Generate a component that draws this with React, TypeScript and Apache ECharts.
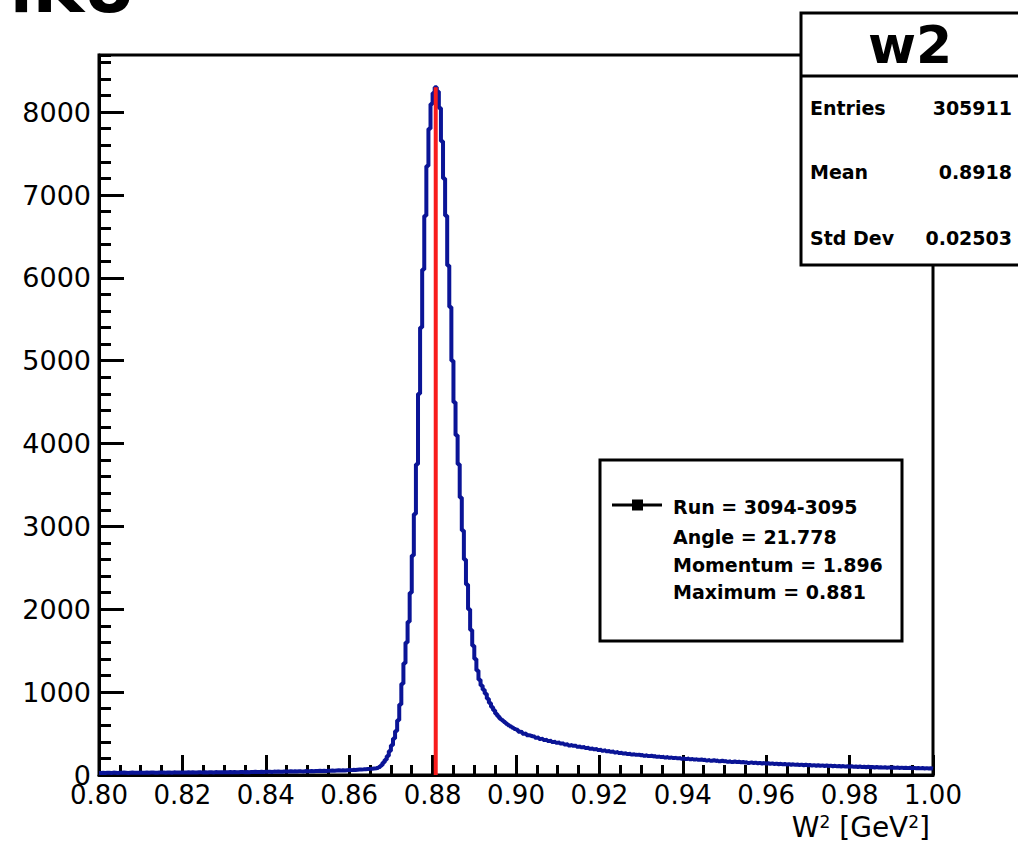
import { useEffect, useRef } from "react";
import * as echarts from "echarts";

// Histogram binning
const BIN_MIN = 0.8;
const BIN_WIDTH = 0.0005;

// Bin contents (400 bins, 0.800 -> 1.000)
const counts: number[] = [
  24, 27, 25, 28, 26, 24, 29, 27, 25, 28,
  26, 29, 27, 25, 28, 30, 26, 28, 27, 29,
  28, 26, 30, 27, 29, 31, 28, 27, 30, 29,
  30, 28, 31, 29, 27, 32, 30, 29, 31, 30,
  31, 29, 32, 30, 33, 31, 30, 34, 32, 31,
  33, 31, 34, 32, 30, 35, 33, 32, 34, 33,
  34, 32, 35, 33, 36, 34, 33, 36, 35, 34,
  36, 34, 37, 35, 38, 36, 35, 38, 37, 39,
  38, 40, 37, 41, 39, 42, 40, 39, 43, 41,
  42, 44, 41, 45, 43, 46, 44, 43, 47, 45,
  46, 48, 45, 49, 47, 50, 48, 51, 49, 52,
  50, 53, 51, 54, 56, 53, 57, 55, 58, 60,
  59, 62, 61, 64, 66, 65, 68, 70, 72, 74,
  76, 79, 82, 88, 98, 118, 150, 185, 230, 290,
  360, 440, 530, 660, 850, 1100, 1350, 1600, 1850, 2200,
  2650, 3150, 3750, 4600, 5400, 6100, 6750, 7350, 7800, 8100,
  8230, 8300, 8250, 8050, 7650, 7200, 6750, 6150, 5650, 5000,
  4500, 4100, 3750, 3350, 2950, 2600, 2300, 2000, 1750, 1560,
  1400, 1260, 1150, 1080, 1030, 980, 920, 870, 820, 780,
  740, 710, 680, 660, 640, 620, 600, 585, 570, 555,
  545, 522, 518, 497, 503, 481, 476, 468, 465, 449,
  452, 436, 438, 421, 425, 411, 414, 398, 401, 389,
  392, 379, 381, 368, 372, 357, 361, 352, 354, 341,
  345, 334, 337, 326, 329, 318, 321, 310, 313, 302,
  305, 294, 298, 287, 291, 280, 284, 273, 277, 266,
  270, 259, 263, 253, 257, 247, 252, 243, 246, 238,
  243, 233, 238, 228, 232, 224, 229, 219, 225, 216,
  221, 212, 217, 208, 213, 204, 210, 201, 206, 197,
  203, 194, 199, 190, 195, 186, 192, 183, 188, 180,
  185, 176, 182, 173, 178, 170, 175, 166, 172, 164,
  169, 160, 166, 157, 163, 155, 160, 152, 157, 150,
  155, 146, 152, 144, 149, 141, 147, 139, 144, 137,
  142, 134, 140, 132, 137, 130, 135, 128, 133, 126,
  131, 124, 129, 122, 127, 120, 125, 118, 123, 117,
  121, 114, 119, 112, 118, 110, 116, 109, 114, 108,
  113, 106, 111, 104, 109, 103, 108, 101, 106, 100,
  105, 98, 103, 97, 102, 95, 100, 94, 99, 93,
  97, 91, 96, 90, 94, 89, 93, 88, 92, 87,
  91, 86, 90, 85, 89, 84, 88, 83, 87, 82,
  86, 81, 85, 80, 84, 79, 83, 78, 82, 77,
];

// Axes
const X_MIN = 0.8;
const X_MAX = 1.0;
const X_INTERVAL = 0.02;
const Y_MIN = 0;
const Y_MAX = 8690;
const Y_INTERVAL = 1000;
const Y_MINOR_INTERVAL = 200;

// Texts
const pageTitle = "lKU";
const statsTitle = "w2";
const statsLabels = ["Entries", "Mean", "Std Dev"];
const statsValues = ["305911", "0.8918", "0.02503"];
const legendLines = ["Run = 3094-3095", "Angle = 21.778", "Momentum = 1.896", "Maximum = 0.881"];

const FONT = '"DejaVu Sans", "Liberation Sans", Arial, sans-serif';

export default function App() {
  const ref = useRef<HTMLDivElement>(null);

  useEffect(() => {
    if (!ref.current) return;
    const chart = echarts.init(ref.current, null, { renderer: "svg" });

    const histData: number[][] = counts.map((c, i) => [BIN_MIN + i * BIN_WIDTH, c]);
    histData.push([BIN_MIN + counts.length * BIN_WIDTH, counts[counts.length - 1]]);

    let maxIdx = 0;
    counts.forEach((c, i) => {
      if (c > counts[maxIdx]) maxIdx = i;
    });
    const peakX = BIN_MIN + (maxIdx + 0.5) * BIN_WIDTH;
    const peakY = counts[maxIdx];

    const statRowsY = [108, 172, 238];
    const legendRowsY = [507, 537, 565, 592];

    const graphic: any[] = [
      {
        type: "text",
        x: 10,
        y: 22,
        z: 20,
        style: { text: pageTitle, fontFamily: FONT, fontWeight: "bold", fontSize: 66, fill: "#000", verticalAlign: "bottom" },
      },
      // stats box
      {
        type: "rect",
        z: 20,
        shape: { x: 801, y: 13, width: 260, height: 252 },
        style: { fill: "#fff", stroke: "#000", lineWidth: 3 },
      },
      {
        type: "line",
        z: 21,
        shape: { x1: 801, y1: 76, x2: 1030, y2: 76 },
        style: { stroke: "#000", lineWidth: 3 },
      },
      {
        type: "text",
        x: 910,
        y: 45,
        z: 21,
        style: { text: statsTitle, fontFamily: FONT, fontWeight: "bold", fontSize: 52, fill: "#000", align: "center", verticalAlign: "middle" },
      },
      ...statsLabels.map((t, i) => ({
        type: "text",
        x: 810,
        y: statRowsY[i],
        z: 21,
        style: { text: t, fontFamily: FONT, fontWeight: "bold", fontSize: 19, fill: "#000", align: "left", verticalAlign: "middle" },
      })),
      ...statsValues.map((t, i) => ({
        type: "text",
        x: 1012,
        y: statRowsY[i],
        z: 21,
        style: { text: t, fontFamily: FONT, fontWeight: "bold", fontSize: 19, fill: "#000", align: "right", verticalAlign: "middle" },
      })),
      // legend box
      {
        type: "rect",
        z: 20,
        shape: { x: 600, y: 460, width: 302, height: 181 },
        style: { fill: "#fff", stroke: "#000", lineWidth: 3 },
      },
      {
        type: "line",
        z: 21,
        shape: { x1: 612, y1: 505, x2: 662, y2: 505 },
        style: { stroke: "#000", lineWidth: 3 },
      },
      {
        type: "rect",
        z: 22,
        shape: { x: 632, y: 499.5, width: 11, height: 11 },
        style: { fill: "#000" },
      },
      ...legendLines.map((t, i) => ({
        type: "text",
        x: 673,
        y: legendRowsY[i],
        z: 21,
        style: { text: t, fontFamily: FONT, fontWeight: "bold", fontSize: 19, fill: "#000", align: "left", verticalAlign: "middle" },
      })),
    ];

    chart.setOption({
      animation: false,
      backgroundColor: "#fff",
      grid: {
        left: 99,
        right: 85,
        top: 55,
        bottom: 70,
        show: true,
        borderColor: "#000",
        borderWidth: 3,
        backgroundColor: "transparent",
      },
      xAxis: {
        type: "value",
        min: X_MIN,
        max: X_MAX,
        interval: X_INTERVAL,
        axisLine: { show: true, lineStyle: { color: "#000", width: 3 } },
        axisTick: { show: true, inside: true, length: 20, lineStyle: { color: "#000", width: 3 } },
        minorTick: { show: true, splitNumber: 4, length: 10, lineStyle: { color: "#000", width: 3 } },
        splitLine: { show: false },
        minorSplitLine: { show: false },
        axisLabel: {
          margin: 7,
          color: "#000",
          fontFamily: FONT,
          fontSize: 26,
          lineHeight: 26,
          formatter: (v: number) => v.toFixed(2),
        },
        name: "{b|W}{s|2}{b| [GeV}{s|2}{b|]}",
        nameLocation: "end",
        nameGap: -3,
        nameTextStyle: {
          align: "right",
          verticalAlign: "top",
          padding: [38, 0, 0, 0],
          rich: {
            b: { fontFamily: FONT, fontSize: 28, lineHeight: 28, color: "#000", verticalAlign: "bottom" },
            s: { fontFamily: FONT, fontSize: 17, lineHeight: 17, color: "#000", verticalAlign: "top" },
          },
        },
      },
      yAxis: [
        {
          type: "value",
          min: Y_MIN,
          max: Y_MAX,
          interval: Y_INTERVAL,
          position: "left",
          axisLine: { show: true, lineStyle: { color: "#000", width: 3 } },
          axisTick: { show: true, inside: true, length: 25, lineStyle: { color: "#000", width: 3 } },
          splitLine: { show: false },
          axisLabel: {
            margin: 8,
            color: "#000",
            fontFamily: FONT,
            fontSize: 27,
            showMaxLabel: false,
            formatter: (v: number) => (v % Y_INTERVAL === 0 ? String(v) : ""),
          },
        },
        {
          type: "value",
          min: Y_MIN,
          max: Y_MAX,
          interval: Y_MINOR_INTERVAL,
          position: "left",
          offset: 0,
          axisLine: { show: false },
          axisTick: { show: true, inside: true, length: 12, lineStyle: { color: "#000", width: 3 } },
          splitLine: { show: false },
          axisLabel: { show: false },
        },
      ],
      series: [
        {
          name: "w2",
          type: "line",
          step: "end",
          data: histData,
          symbol: "none",
          clip: true,
          lineStyle: { color: "#0a1496", width: 4 },
          z: 3,
        },
        {
          name: "maximum",
          type: "line",
          data: [
            [peakX, 0],
            [peakX, peakY],
          ],
          symbol: "none",
          lineStyle: { color: "#f81c1c", width: 4 },
          z: 4,
        },
      ],
      graphic,
    });

    return () => chart.dispose();
  }, []);

  return (
    <div
      ref={ref}
      style={{ position: "fixed", left: 0, top: 0, width: 1018, height: 845, background: "#fff" }}
    />
  );
}
